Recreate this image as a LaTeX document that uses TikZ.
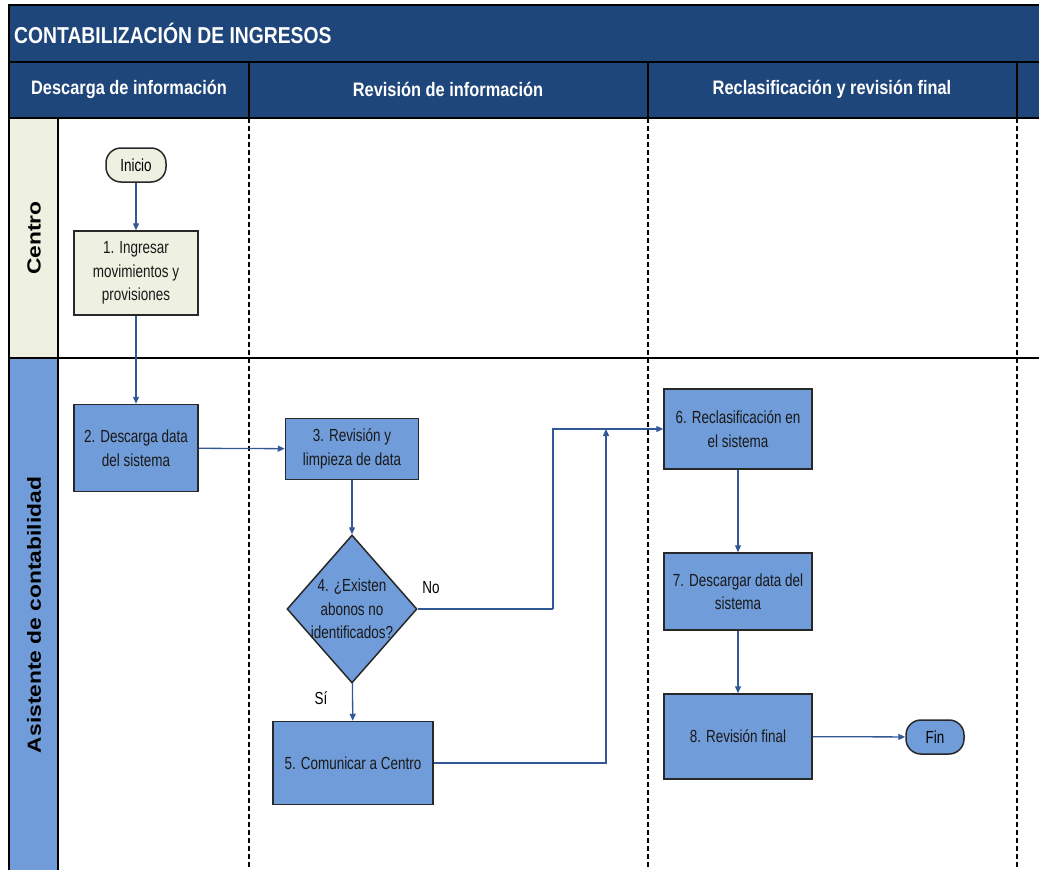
\documentclass[tikz,border=0pt]{standalone}
\usepackage{fontspec}
\setmainfont{Liberation Sans}
\newfontfamily\narrowfont[FakeStretch=0.84]{Liberation Sans}
\newfontfamily\nodefont[FakeStretch=0.77]{Liberation Sans}
\newfontfamily\widefont[FakeStretch=1.2]{Liberation Sans}
\usetikzlibrary{shapes.geometric,arrows.meta}
\definecolor{hdrblue}{RGB}{31,70,122}
\definecolor{laneblue}{RGB}{112,156,217}
\definecolor{beige}{RGB}{238,240,225}
\definecolor{connblue}{RGB}{50,88,150}
\definecolor{edge}{RGB}{40,40,40}
\begin{document}
\begin{tikzpicture}[x=1pt,y=-1pt,
  frame/.style={line width=1.8pt,draw=black},
  lanesep/.style={line width=2pt,draw=black,dash pattern=on 5pt off 3pt},
  proc/.style={draw=edge,line width=1.5pt,fill=laneblue,inner sep=0pt,align=center,
     font=\nodefont\fontsize{17.5}{23.5}\selectfont,text=black!90},
  procc/.style={proc,fill=beige},
  term/.style={draw=edge,line width=1.5pt,rounded corners=15pt,inner sep=0pt,
     minimum height=34pt,font=\nodefont\fontsize{17.5}{20}\selectfont},
  conn/.style={draw=connblue,line width=1.3pt,-{Triangle[length=7pt,width=6pt]}},
  plain/.style={draw=connblue,line width=1.3pt},
  lbl/.style={font=\nodefont\fontsize{17.5}{20}\selectfont,inner sep=0pt},
  hdrtext/.style={text=white,font=\narrowfont\bfseries\fontsize{19.5}{22}\selectfont,inner sep=0pt},
  lanetext/.style={font=\widefont\bfseries\fontsize{19}{22}\selectfont,inner sep=0pt,rotate=90}
]
\useasboundingbox (0,0) rectangle (1039,870);
\clip (0,0) rectangle (1039,870);

% lanes
\fill[beige] (9,118) rectangle (58,358);
\fill[laneblue] (9,358) rectangle (58,880);
% title and header
\fill[hdrblue] (9,5) rectangle (1045,118);
\draw[frame] (1045,5) -- (9,5) -- (9,880);
\draw[frame] (9,62) -- (1045,62);
\draw[frame] (9,118) -- (1045,118);
\draw[frame] (249,62) -- (249,118);
\draw[frame] (648,62) -- (648,118);
\draw[frame] (1017,62) -- (1017,118);
\draw[frame] (58,118) -- (58,880);
\draw[frame] (9,358) -- (1045,358);
% dashed phase separators
\draw[lanesep] (249,118) -- (249,880);
\draw[lanesep] (648,118) -- (648,880);
\draw[lanesep] (1017,118) -- (1017,880);

\node[anchor=west,text=white,font=\narrowfont\bfseries\fontsize{23}{26}\selectfont,inner sep=0pt] (title) at (14,33) {CONTABILIZACIÓN DE INGRESOS};
\node[hdrtext] (h1) at (129,89) {Descarga de información};
\node[hdrtext] (h2) at (448,89) {Revisión de información};
\node[hdrtext] (h3) at (832,89) {Reclasificación y revisión final};
\node[lanetext] (l1) at (34,238) {Centro};
\node[lanetext] (l2) at (34,615) {Asistente de contabilidad};

% nodes
\node[term,fill=beige,minimum width=60pt] (ini) at (136,165) {Inicio};
\node[procc,minimum width=124pt,minimum height=84pt] (n1) at (136,273) {1. Ingresar\\movimientos y\\provisiones};
\node[proc,minimum width=124pt,minimum height=87pt] (n2) at (136,448) {2. Descarga data\\del sistema};
\node[proc,minimum width=133pt,minimum height=61pt] (n3) at (352,449) {3. Revisión y\\limpieza de data};
\node[diamond,draw=edge,line width=1.5pt,fill=laneblue,inner sep=0pt,minimum width=130pt,minimum height=148pt] (n4) at (352,609) {};
\node[proc,draw=none,fill=none] (n4t) at (352,609) {4. ¿Existen\\abonos no\\identificados?};
\node[proc,minimum width=160pt,minimum height=83pt] (n5) at (353,763) {5. Comunicar a Centro};
\node[proc,minimum width=148pt,minimum height=80pt] (n6) at (738,429) {6. Reclasificación en\\el sistema};
\node[proc,minimum width=148pt,minimum height=77pt] (n7) at (738,591.5) {7. Descargar data del\\sistema};
\node[proc,minimum width=148pt,minimum height=85pt] (n8) at (738,736.5) {8. Revisión final};
\node[term,fill=laneblue,minimum width=58pt] (fin) at (935,737) {Fin};

\node[lbl] (no) at (431,588) {No};
\node[lbl] (si) at (321,698) {Sí};

\coordinate (k) at (553,609);
\coordinate (j) at (606,429);

% connectors
\draw[conn] (ini) -- (n1);
\draw[conn] (n1) -- (n2);
\draw[conn] (n2) -- (n3);
\draw[conn] (n3) -- (n4);
\draw[conn] (n4) -- (n5);
\draw[plain] (n4.east) -- (k);
\draw[conn] (k) |- (n6.west);
\draw[conn] (n5.east) -| (j);
\draw[conn] (n6) -- (n7);
\draw[conn] (n7) -- (n8);
\draw[conn] (n8) -- (fin);
\end{tikzpicture}
\end{document}
